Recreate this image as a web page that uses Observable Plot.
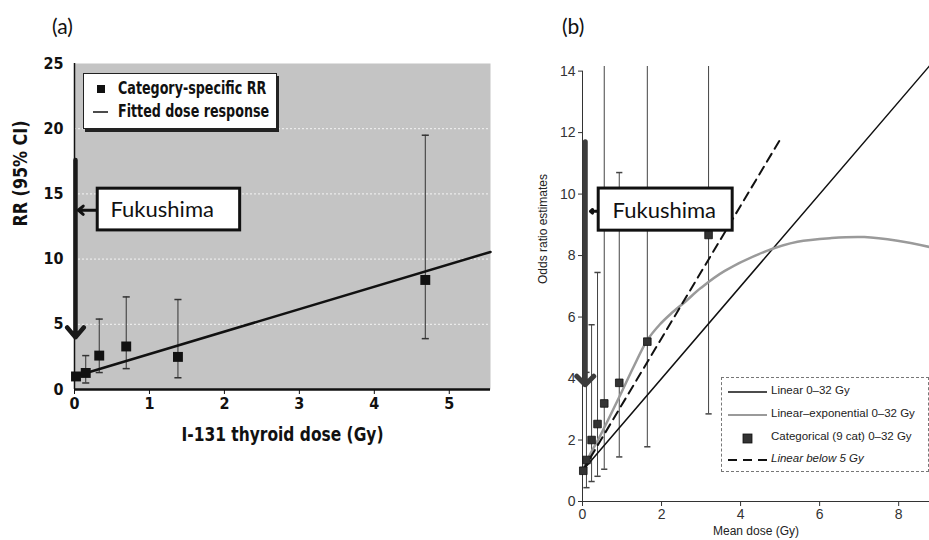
<!DOCTYPE html>
<html><head><meta charset="utf-8">
<script src="https://cdn.jsdelivr.net/npm/d3@7"></script>
<script src="https://cdn.jsdelivr.net/npm/@observablehq/plot@0.6"></script>
<style>
body{margin:0;background:#fff;}
#wrap{position:relative;width:929px;height:540px;overflow:hidden;background:#fff;}
#wrap svg{position:absolute;top:0;}
.abs{position:absolute;white-space:nowrap;}
</style></head><body><div id="wrap"></div>
<script>
// ---------- Panel (a) data ----------
const doseA = [0.02, 0.15, 0.33, 0.69, 1.38, 4.68];
const rrA   = [1.0, 1.27, 2.6, 3.3, 2.5, 8.4];
const loA   = [null, 0.5, 1.3, 1.6, 0.9, 3.9];
const hiA   = [null, 2.6, 5.4, 7.1, 6.9, 19.5];
const fitDoseA = [0, 5.55];
const fitRRA   = [1.0, 10.55];
const ticksXA = [0, 1, 2, 3, 4, 5];
const ticksYA = [0, 5, 10, 15, 20, 25];
const gridYA  = [5, 10, 15, 20];
const legendA = ["Category-specific RR", "Fitted dose response"];

// ---------- Panel (b) data ----------
const doseB = [0.02, 0.10, 0.23, 0.38, 0.55, 0.93, 1.64, 3.19];
const orB   = [1.0, 1.35, 2.0, 2.52, 3.19, 3.86, 5.2, 8.67];
const loB   = [null, 0.45, 0.65, 0.82, 1.05, 1.45, 1.78, 2.85];
const hiB   = [null, 4.2, 5.75, 7.45, 16, 10.7, 16, 16];
const linDoseB = [0, 8.78];
const linORB   = [1.0, 14.17];
const leDoseB = [0, 0.2, 0.42, 0.93, 1.3, 1.64, 1.95, 2.23, 2.6, 3.0, 3.6, 4.68, 5.44, 6.3, 7.13, 7.97, 8.78];
const leORB   = [1.0, 1.55, 2.07, 3.4, 4.4, 5.25, 5.75, 6.1, 6.5, 6.95, 7.5, 8.16, 8.45, 8.57, 8.6, 8.48, 8.28];
const ldDoseB = [0, 4.98];
const ldORB   = [1.0, 11.73];
const ticksXB = [0, 2, 4, 6, 8];
const ticksYB = [0, 2, 4, 6, 8, 10, 12, 14];
const legendB = ["Linear 0\u201332 Gy", "Linear\u2013exponential 0\u201332 Gy", "Categorical (9 cat) 0\u201332 Gy", "Linear below 5 Gy"];

// ---------- Fukushima annotations (data units) ----------
const fukuA = {barX: 0.013, barTop: 17.6, barTip: 4.0, boxX1: 0.31, boxX2: 2.21, boxY1: 12.2, boxY2: 15.4, textX: 1.17, textY: 13.75, arrowFrom: 0.31, arrowTo: 0.05};
const fukuB = {barX: 0.07, barTop: 11.7, barTip: 3.8, boxX1: 0.41, boxX2: 3.8, boxY1: 8.81, boxY2: 10.18, textX: 2.07, textY: 9.44, arrowFrom: 0.41, arrowTo: 0.2};
const fukuLabel = "Fukushima";

const narrow = "'Liberation Sans Narrow','Arial Narrow','DejaVu Sans Condensed',sans-serif";
const sans = "'Liberation Sans',Arial,Helvetica,sans-serif";
const fukuFont = "Lato,'Open Sans',sans-serif";

const wrap = document.getElementById("wrap");
const cap = {draw(ctx, size){ const w = Math.sqrt(size) / 2; ctx.moveTo(-w, 0); ctx.lineTo(w, 0); }};

// ---------- Panel (a) ----------
const ptsA = doseA.map((d, i) => ({dose: d, rr: rrA[i], lo: loA[i], hi: hiA[i]}));
const ciA = ptsA.filter(d => d.lo != null);
const fitA = fitDoseA.map((d, i) => ({dose: d, rr: fitRRA[i]}));

const plotA = Plot.plot({
  width: 500, height: 470,
  marginLeft: 74, marginRight: 10, marginTop: 63, marginBottom: 81,
  x: {domain: [0, 5.55]},
  y: {domain: [0, 25]},
  style: {background: "transparent", fontFamily: narrow, overflow: "visible"},
  marks: [
    Plot.frame({fill: "#c4c4c4", stroke: null}),
    Plot.ruleY(gridYA, {stroke: "#f4f4f4", strokeWidth: 1, strokeDasharray: "2,2"}),
    Plot.axisX({ticks: ticksXA, tickSize: 5, tickPadding: 3, fontSize: 16, fontWeight: "bold", color: "#111", label: null, tickFormat: d => String(d)}),
    Plot.axisY({ticks: ticksYA, tickSize: 0, tickPadding: 11, fontSize: 16, fontWeight: "bold", color: "#111", label: null}),
    Plot.ruleX([0], {stroke: "#111", strokeWidth: 1.5}),
    Plot.ruleY([0], {stroke: "#111", strokeWidth: 2.5}),
    Plot.ruleX(ciA, {x: "dose", y1: "lo", y2: "hi", stroke: "#333", strokeWidth: 1}),
    Plot.dot(ciA, {x: "dose", y: "lo", symbol: cap, r: 4, stroke: "#333", fill: "none"}),
    Plot.dot(ciA, {x: "dose", y: "hi", symbol: cap, r: 4, stroke: "#333", fill: "none"}),
    Plot.line(fitA, {x: "dose", y: "rr", stroke: "#111", strokeWidth: 2.5}),
    Plot.dot(ptsA, {x: "dose", y: "rr", symbol: "square", r: 5.6, fill: "#111", stroke: null}),
    Plot.arrow([fukuA], {x1: "barX", x2: "barX", y1: "barTop", y2: "barTip", stroke: "#1a1a1a", strokeWidth: 4.5, headLength: 4.3, headAngle: 80}),
    Plot.arrow([fukuA], {x1: "arrowFrom", x2: "arrowTo", y1: "textY", y2: "textY", stroke: "#111", strokeWidth: 3, headLength: 4, headAngle: 80}),
    Plot.rect([fukuA], {x1: "boxX1", x2: "boxX2", y1: "boxY1", y2: "boxY2", fill: "#fff", stroke: "#111", strokeWidth: 3}),
    Plot.text([fukuLabel], {x: () => fukuA.textX, y: () => fukuA.textY, text: d => d, fontSize: 22, fontFamily: fukuFont, fill: "#111"}),
    Plot.text(["RR (95% CI)"], {frameAnchor: "left", rotate: -90, dx: -54, text: d => d, fontSize: 19, fontWeight: "bold", fontFamily: narrow, fill: "#111", className: "ttlY"}),
    Plot.text(["I-131 thyroid dose (Gy)"], {frameAnchor: "bottom", dy: 51, text: d => d, fontSize: 20, fontWeight: "bold", fontFamily: narrow, fill: "#111", className: "ttlX"})
  ]
});
plotA.style.left = "0px";
wrap.appendChild(plotA);
// condense the bold axis titles to the reference's narrow width
d3.select(plotA).selectAll(".ttlY text").attr("textLength", 106).attr("lengthAdjust", "spacingAndGlyphs");
d3.select(plotA).selectAll(".ttlX text").attr("textLength", 202).attr("lengthAdjust", "spacingAndGlyphs");

// ---------- Panel (b) ----------
const ptsB = doseB.map((d, i) => ({dose: d, or: orB[i], lo: loB[i], hi: hiB[i]}));
const ciB = ptsB.filter(d => d.lo != null);
const capHiB = ciB.filter(d => d.hi <= 14);
const linB = linDoseB.map((d, i) => ({dose: d, or: linORB[i]}));
const leB = leDoseB.map((d, i) => ({dose: d, or: leORB[i]}));
const ldB = ldDoseB.map((d, i) => ({dose: d, or: ldORB[i]}));

const plotB = Plot.plot({
  width: 429, height: 540,
  marginLeft: 82, marginRight: 0, marginTop: 66, marginBottom: 39,
  x: {domain: [0, 8.78]},
  y: {domain: [0, 14.15]},
  style: {background: "transparent", fontFamily: sans, overflow: "visible"},
  marks: [
    Plot.axisX({ticks: ticksXB, tickSize: 5, tickPadding: 3, fontSize: 14, color: "#333", label: null}),
    Plot.axisY({ticks: ticksYB, tickSize: 4, tickPadding: 3, fontSize: 14, color: "#333", label: null}),
    Plot.ruleX([0], {y1: 0, y2: 14, stroke: "#333", strokeWidth: 1}),
    Plot.ruleY([0], {stroke: "#333", strokeWidth: 1}),
    Plot.ruleX(ciB, {x: "dose", y1: "lo", y2: "hi", stroke: "#444", strokeWidth: 1, clip: true}),
    Plot.dot(ciB, {x: "dose", y: "lo", symbol: cap, r: 3.5, stroke: "#444", fill: "none"}),
    Plot.dot(capHiB, {x: "dose", y: "hi", symbol: cap, r: 3.5, stroke: "#444", fill: "none"}),
    Plot.line(linB, {x: "dose", y: "or", stroke: "#111", strokeWidth: 1.5}),
    Plot.line(leB, {x: "dose", y: "or", curve: "catmull-rom", stroke: "#9a9a9a", strokeWidth: 2.5}),
    Plot.line(ldB, {x: "dose", y: "or", stroke: "#111", strokeWidth: 2, strokeDasharray: "9,6"}),
    Plot.dot(ptsB, {x: "dose", y: "or", symbol: "square", r: 4.3, fill: "#333", stroke: "#111", strokeWidth: 0.8}),
    Plot.arrow([fukuB], {x1: "barX", x2: "barX", y1: "barTop", y2: "barTip", stroke: "#3c3c3c", strokeWidth: 5, headLength: 3.6, headAngle: 90}),
    Plot.arrow([fukuB], {x1: "arrowFrom", x2: "arrowTo", y1: "textY", y2: "textY", stroke: "#111", strokeWidth: 3, headLength: 4, headAngle: 80}),
    Plot.rect([fukuB], {x1: "boxX1", x2: "boxX2", y1: "boxY1", y2: "boxY2", fill: "#fff", stroke: "#111", strokeWidth: 3}),
    Plot.text([fukuLabel], {x: () => fukuB.textX, y: () => fukuB.textY, text: d => d, fontSize: 22, fontFamily: fukuFont, fill: "#111"}),
    Plot.text(["Odds ratio estimates"], {frameAnchor: "left", rotate: -90, dx: -39, text: d => d, fontSize: 12, fontFamily: sans, fill: "#222"}),
    Plot.text(["Mean dose (Gy)"], {frameAnchor: "bottom", dy: 33, text: d => d, fontSize: 12, fontFamily: sans, fill: "#222"})
  ]
});
plotB.style.left = "500px";
wrap.appendChild(plotB);

// ---------- HTML titles & legends ----------
function addDiv(html, css){ const d = document.createElement("div"); d.className = "abs"; d.style.cssText = css; d.innerHTML = html; wrap.appendChild(d); return d; }
addDiv("(a)", "left:52px;top:13px;font:21px " + fukuFont + ";color:#111;");
addDiv("(b)", "left:562px;top:13px;font:21px " + fukuFont + ";color:#111;");

// legend (a)
const legA = addDiv("", "left:83px;top:73px;width:194px;height:56px;background:#fff;border:1.5px solid #222;box-shadow:2px 3px 0 #222;box-sizing:border-box;");
const swA = [
  '<svg width="20" height="14" style="position:absolute;left:7px;top:-7px"><rect x="6" y="3" width="8" height="8" fill="#111"/></svg>',
  '<svg width="20" height="14" style="position:absolute;left:7px;top:-7px"><line x1="2" x2="17" y1="7" y2="7" stroke="#111" stroke-width="1.5"/></svg>'
];
legendA.forEach((t, i) => {
  const row = document.createElement("div");
  row.style.cssText = "position:absolute;left:0;top:" + (15 + i * 23) + "px;height:0;width:100%;";
  row.innerHTML = swA[i] + '<span style="position:absolute;left:34px;top:-11px;font:bold 17px ' + narrow + ';color:#111;white-space:nowrap;transform:scaleX(0.83);transform-origin:0 50%;">' + t + '</span>';
  legA.appendChild(row);
});

// legend (b)
const legB = addDiv("", "left:721px;top:377px;width:208px;height:95px;background:#fff;border:1px dashed #777;box-sizing:border-box;");
const swB = [
  '<line x1="0" x2="39" y1="7" y2="7" stroke="#111" stroke-width="1.3"/>',
  '<line x1="0" x2="39" y1="7" y2="7" stroke="#9a9a9a" stroke-width="2"/>',
  '<rect x="15" y="3" width="9" height="9" fill="#333" stroke="#111" stroke-width="0.8"/>',
  '<line x1="0" x2="39" y1="7" y2="7" stroke="#111" stroke-width="2" stroke-dasharray="9,6"/>'
];
legendB.forEach((t, i) => {
  const row = document.createElement("div");
  row.style.cssText = "position:absolute;left:0;top:" + [14, 37, 60, 82][i] + "px;height:0;width:100%;";
  row.innerHTML = '<svg width="40" height="14" style="position:absolute;left:6px;top:-7px">' + swB[i] + '</svg>' +
    '<span style="position:absolute;left:49px;top:-8px;font:' + (i === 3 ? 'italic ' : '') + '11.5px ' + sans + ';color:#222;white-space:nowrap;">' + t + '</span>';
  legB.appendChild(row);
});
</script></body></html>
